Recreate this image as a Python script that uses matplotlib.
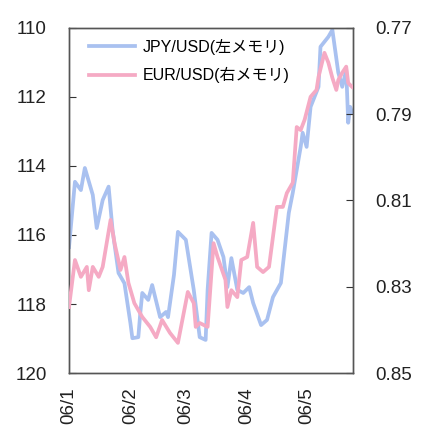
import matplotlib
matplotlib.use("Agg")
import matplotlib.pyplot as plt
import pandas as pd

plt.rcParams['font.family'] = ['Liberation Sans', 'Noto Sans CJK JP', 'DejaVu Sans']

# JPY/USD (left axis)
jpy_dates = ["2006-01-01", "2006-01-04", "2006-01-07", "2006-01-09", "2006-01-13", "2006-01-15",
             "2006-01-18", "2006-01-21", "2006-01-23", "2006-01-26", "2006-01-29", "2006-02-01",
             "2006-02-02", "2006-02-05", "2006-02-06", "2006-02-07", "2006-02-10", "2006-02-12",
             "2006-02-16", "2006-02-19", "2006-02-20", "2006-02-23", "2006-02-25", "2006-03-01",
             "2006-03-05", "2006-03-08", "2006-03-11", "2006-03-12", "2006-03-14", "2006-03-17",
             "2006-03-20", "2006-03-22", "2006-03-24", "2006-03-27", "2006-03-30", "2006-04-02",
             "2006-04-04", "2006-04-08", "2006-04-11", "2006-04-14", "2006-04-18", "2006-04-22",
             "2006-04-24", "2006-04-28", "2006-04-29", "2006-05-01", "2006-05-03", "2006-05-07",
             "2006-05-08", "2006-05-12", "2006-05-14", "2006-05-17", "2006-05-19", "2006-05-21",
             "2006-05-22", "2006-05-23", "2006-05-24"]
jpy_values = [116.35, 114.46, 114.70, 114.06, 114.84, 115.80,
              114.99, 114.60, 115.86, 117.10, 117.40, 118.55,
              118.99, 118.96, 118.26, 117.68, 117.88, 117.45,
              118.38, 118.23, 118.38, 117.16, 115.91, 116.14,
              117.59, 118.96, 119.04, 117.59, 115.94, 116.14,
              116.64, 117.51, 116.67, 117.59, 117.68, 117.51,
              117.97, 118.61, 118.46, 117.80, 117.39, 115.36,
              114.78, 113.45, 113.04, 113.45, 112.29, 111.71,
              110.55, 110.26, 110.06, 111.30, 111.71, 111.22,
              112.75, 112.29, 112.46]

# EUR/USD (right axis)
eur_dates = ["2006-01-01", "2006-01-04", "2006-01-07", "2006-01-10", "2006-01-11", "2006-01-13",
             "2006-01-16", "2006-01-18", "2006-01-22", "2006-01-24", "2006-01-27", "2006-01-29",
             "2006-01-31", "2006-02-03", "2006-02-07", "2006-02-11", "2006-02-14", "2006-02-17",
             "2006-02-21", "2006-02-25", "2006-03-02", "2006-03-05", "2006-03-06", "2006-03-08",
             "2006-03-12", "2006-03-15", "2006-03-17", "2006-03-21", "2006-03-22", "2006-03-24",
             "2006-03-27", "2006-03-29", "2006-04-01", "2006-04-04", "2006-04-06", "2006-04-09",
             "2006-04-12", "2006-04-16", "2006-04-19", "2006-04-21", "2006-04-24", "2006-04-26",
             "2006-04-28", "2006-04-30", "2006-05-03", "2006-05-06", "2006-05-07", "2006-05-10",
             "2006-05-12", "2006-05-14", "2006-05-16", "2006-05-17", "2006-05-19", "2006-05-21",
             "2006-05-22", "2006-05-24"]
eur_values = [0.8347, 0.8238, 0.8277, 0.8254, 0.8308, 0.8254,
              0.8277, 0.8254, 0.8145, 0.8199, 0.8261, 0.8231,
              0.8291, 0.8338, 0.8370, 0.8393, 0.8417, 0.8377,
              0.8407, 0.8430, 0.8312, 0.8338, 0.8393, 0.8384,
              0.8393, 0.8199, 0.8231, 0.8284, 0.8347, 0.8308,
              0.8324, 0.8238, 0.8231, 0.8152, 0.8254, 0.8266,
              0.8254, 0.8115, 0.8115, 0.8083, 0.8059, 0.7930,
              0.7937, 0.7913, 0.7860, 0.7844, 0.7814, 0.7758,
              0.7781, 0.7816, 0.7844, 0.7821, 0.7804, 0.7790,
              0.7828, 0.7837]

month_ticks = ["2006-01-01", "2006-02-01", "2006-03-01", "2006-04-01", "2006-05-01"]
month_labels = ["06/1", "06/2", "06/3", "06/4", "06/5"]
left_ticks = [110, 112, 114, 116, 118, 120]
right_ticks = [0.77, 0.79, 0.81, 0.83, 0.85]
right_labels = ["0.77", "0.79", "0.81", "0.83", "0.85"]

fig = plt.figure(figsize=(4.26, 4.41), dpi=100)
ax = fig.add_axes([0.162, 0.154, 0.667, 0.783])
ax2 = ax.twinx()

jd = pd.to_datetime(jpy_dates)
ed = pd.to_datetime(eur_dates)

l1, = ax.plot(jd, jpy_values, color='#a9c1f0', lw=2.7, label='JPY/USD(左メモリ)', zorder=2)
l2, = ax2.plot(ed, eur_values, color='#f5aac4', lw=2.7, label='EUR/USD(右メモリ)', zorder=3)

ax.set_ylim(120, 110)
ax2.set_ylim(0.85, 0.77)
ax.set_xlim(pd.Timestamp("2006-01-01"), pd.Timestamp("2006-05-24 12:00"))

ax.set_yticks(left_ticks)
ax.set_yticklabels([str(t) for t in left_ticks])
ax2.set_yticks(right_ticks)
ax2.set_yticklabels(right_labels)
ax.set_xticks(pd.to_datetime(month_ticks))
ax.set_xticklabels(month_labels, rotation=90)

for a in (ax, ax2):
    for s in a.spines.values():
        s.set_color('#555555')
        s.set_linewidth(1.0)
ax.tick_params(axis='y', direction='in', length=5, labelsize=13.5, pad=16, colors='#333333', labelcolor='#222222')
ax2.tick_params(axis='y', direction='in', length=5, labelsize=13.5, pad=16, colors='#333333', labelcolor='#222222')
ax.tick_params(axis='x', direction='in', length=0, labelsize=13.5, pad=10, labelcolor='#222222')

leg = ax2.legend(handles=[l1, l2], loc='upper left', frameon=False, fontsize=11.5,
                 handlelength=2.9, handletextpad=0.5, borderaxespad=0.3, labelspacing=0.75,
                 bbox_to_anchor=(0.03, 1.0))

fig.savefig("out.png", dpi=100)
